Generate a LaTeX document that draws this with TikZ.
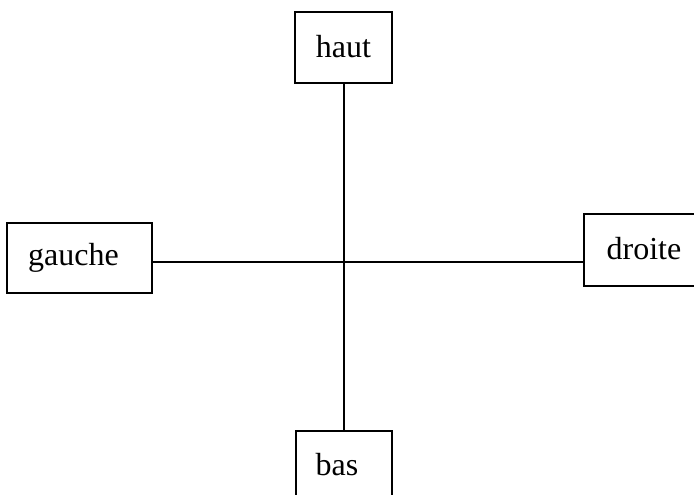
\documentclass[tikz,border=0pt]{standalone}
\usepackage{fontspec}
\setmainfont{Liberation Serif}
\begin{document}
\begin{tikzpicture}[x=1pt,y=-1pt,
  box/.style={draw, line width=1.5pt, inner sep=0pt, font=\fontsize{32}{36}\selectfont},
  wire/.style={line width=1.5pt}]
\useasboundingbox (0,0) rectangle (694,495);
\clip (0,0) rectangle (694,495);
\node[box, minimum width=97pt, minimum height=71pt] (haut) at (343.5,47.5) {\raisebox{3pt}{haut}};
\node[box, minimum width=145pt, minimum height=70pt] (gauche) at (79.5,258) {\hspace*{-12pt}gauche};
\node[box, minimum width=120pt, minimum height=72pt] (droite) at (644,250) {\raisebox{3pt}{droite}};
\node[box, minimum width=96pt, minimum height=68pt] (bas) at (344,465) {\hspace*{-14pt}bas};
\coordinate (c) at (344,262);
\draw[wire] (haut.south -| c) -- (bas.north -| c);
\draw[wire] (gauche.east |- c) -- (droite.west |- c);
\end{tikzpicture}
\end{document}
